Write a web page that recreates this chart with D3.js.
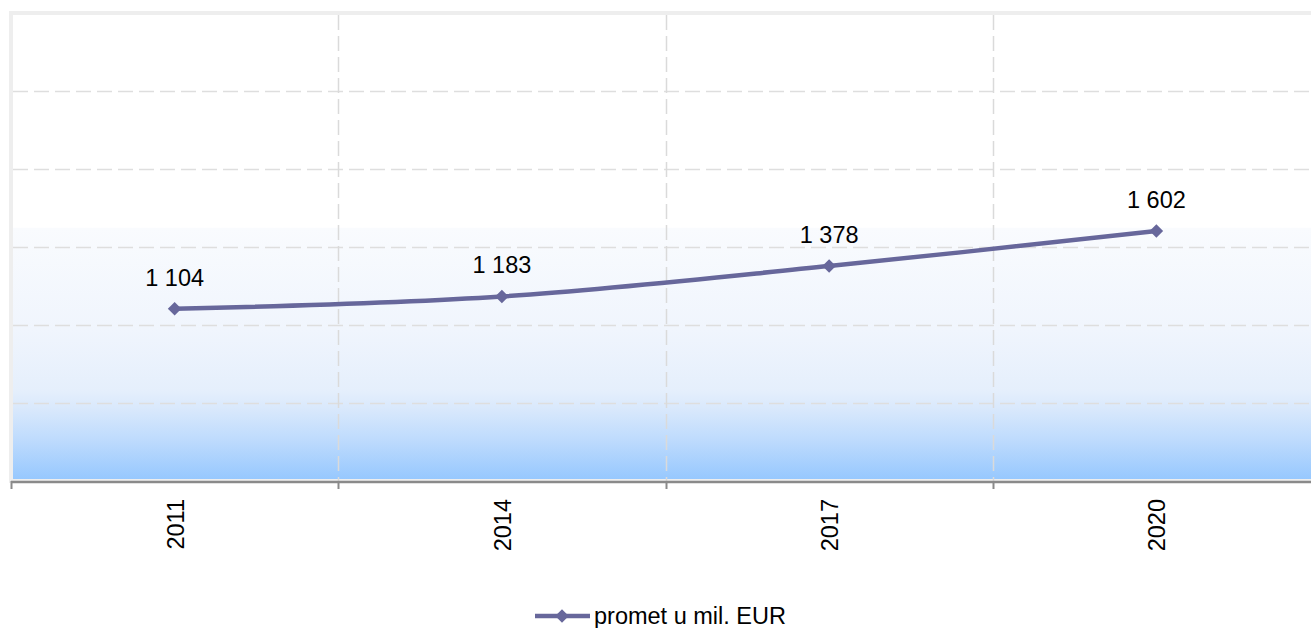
<!DOCTYPE html>
<html>
<head>
<meta charset="utf-8">
<script src="https://cdn.jsdelivr.net/npm/d3@7"></script>
<style>
  html, body { margin: 0; padding: 0; background: #ffffff; }
  svg { display: block; font-family: Arial, "Liberation Sans", sans-serif; }
</style>
</head>
<body>
<svg id="chart" width="1311" height="628"></svg>
<script>
const categories = ["2011", "2014", "2017", "2020"];
const values = [1104, 1183, 1378, 1602];
const valueLabels = ["1 104", "1 183", "1 378", "1 602"];
const yTicks = [500, 1000, 1500, 2000, 2500, 3000];
const seriesName = "promet u mil. EUR";

(function () {
const svg = d3.select("#chart");
const W = 1311, H = 628;
const pL = 11, pR = 1320, pT = 13, pB = 481;
const lineColor = "#67679b";
const fs = 23.5;

const x = d3.scaleBand().domain(categories).range([pL, pR]).padding(0);
const y = d3.scaleLinear().domain([0, 3000]).range([pB, pT]);

// gradient
const defs = svg.append("defs");
const grad = defs.append("linearGradient").attr("id", "bg")
  .attr("gradientUnits", "userSpaceOnUse")
  .attr("x1", 0).attr("x2", 0).attr("y1", pT).attr("y2", pB);
[[0, "#ffffff"], [0.458, "#ffffff"], [0.46, "#f9fbfe"], [0.677, "#f0f5fd"],
 [0.806, "#e5effc"], [0.848, "#d8e8fc"], [0.912, "#bedbfd"], [1, "#95c7fe"]]
  .forEach(([o, c]) => grad.append("stop").attr("offset", o).attr("stop-color", c));

svg.append("rect").attr("x", pL).attr("y", pT)
  .attr("width", pR - pL).attr("height", pB - pT)
  .attr("fill", "url(#bg)").attr("stroke", "#eeeeee").attr("stroke-width", 4);

// horizontal gridlines
svg.append("g").selectAll("line").data(yTicks.filter(d => d < 3000)).join("line")
  .attr("x1", pL + 2).attr("x2", W)
  .attr("y1", d => Math.round(y(d)) + 0.5).attr("y2", d => Math.round(y(d)) + 0.5)
  .attr("stroke", "#dedede").attr("stroke-width", 1.5)
  .attr("stroke-dasharray", "15,6");

// vertical gridlines at band boundaries
const bounds = categories.slice(1).map(c => x(c));
svg.append("g").selectAll("line").data(bounds).join("line")
  .attr("x1", d => Math.round(d) + 0.5).attr("x2", d => Math.round(d) + 0.5)
  .attr("y1", pT + 2).attr("y2", pB)
  .attr("stroke", "#dadada").attr("stroke-width", 1.5)
  .attr("stroke-dasharray", "15,6");

// x axis
const xAxis = svg.append("g");
xAxis.append("line").attr("x1", pL).attr("x2", W)
  .attr("y1", pB + 1).attr("y2", pB + 1)
  .attr("stroke", "#8a8a8a").attr("stroke-width", 2.5);
const tickPos = categories.map(c => x(c)).concat([x(categories[categories.length - 1]) + x.bandwidth()]);
xAxis.selectAll("line.tick").data(tickPos).join("line").attr("class", "tick")
  .attr("x1", d => Math.round(d) + 0.5).attr("x2", d => Math.round(d) + 0.5)
  .attr("y1", pB).attr("y2", pB + 8)
  .attr("stroke", "#8a8a8a").attr("stroke-width", 2);

xAxis.selectAll("text").data(categories).join("text")
  .attr("transform", d => `translate(${x(d) + x.bandwidth() / 2 + 9},499) rotate(-90)`)
  .attr("text-anchor", "end")
  .attr("font-size", fs)
  .attr("fill", "#000")
  .text(d => d);

// line
const pts = categories.map((c, i) => [x(c) + x.bandwidth() / 2, y(values[i])]);
svg.append("path").datum(pts)
  .attr("d", d3.line().curve(d3.curveCardinal.tension(0)))
  .attr("fill", "none").attr("stroke", lineColor).attr("stroke-width", 4.5)
  .attr("stroke-linejoin", "round");

const diamond = d3.symbol().type(d3.symbolSquare).size(92);
svg.append("g").selectAll("path").data(pts).join("path")
  .attr("d", diamond)
  .attr("transform", d => `translate(${d[0]},${d[1]}) rotate(45)`)
  .attr("fill", lineColor);

// value labels
svg.append("g").selectAll("text").data(pts).join("text")
  .attr("x", d => d[0]).attr("y", d => d[1] - 23)
  .attr("text-anchor", "middle")
  .attr("font-size", fs)
  .attr("fill", "#000")
  .text((d, i) => valueLabels[i]);

// legend
const lg = svg.append("g");
lg.append("line").attr("x1", 535).attr("x2", 590).attr("y1", 616).attr("y2", 616)
  .attr("stroke", lineColor).attr("stroke-width", 4.5);
lg.append("path").attr("d", diamond)
  .attr("transform", "translate(562,616) rotate(45)").attr("fill", lineColor);
lg.append("text").attr("x", 594).attr("y", 624)
  .attr("font-size", fs).attr("fill", "#000").text(seriesName);
})();
</script>
</body>
</html>
